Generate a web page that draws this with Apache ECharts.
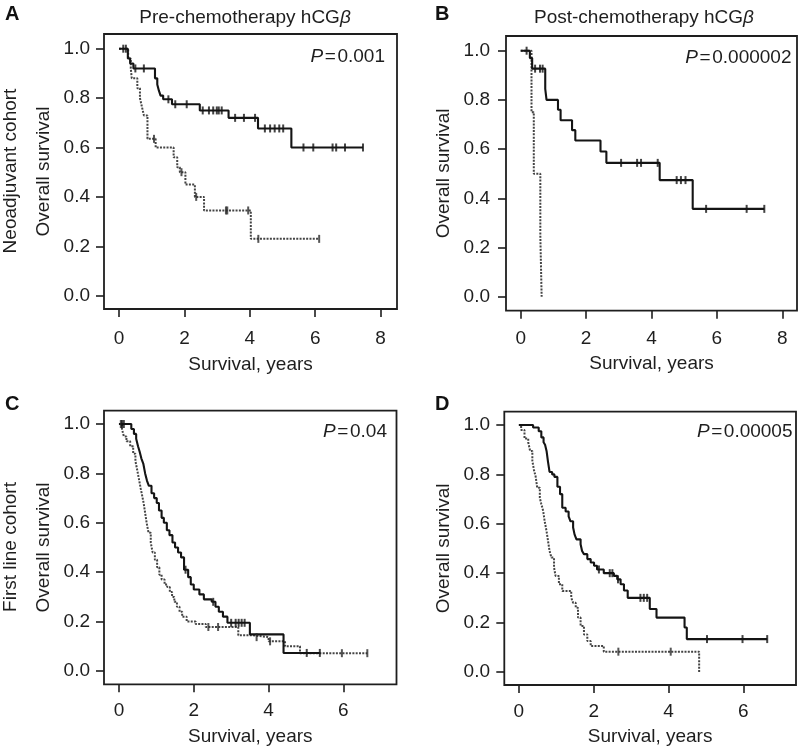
<!DOCTYPE html>
<html><head><meta charset="utf-8">
<script src="https://cdn.jsdelivr.net/npm/echarts@6/dist/echarts.min.js"></script>
<style>html,body{margin:0;padding:0;background:#fff}#chart{width:798px;height:749px}</style>
</head><body><div id="chart"></div>
<script>
// ---------- tick labels ----------
const xTicksAB = [0, 2, 4, 6, 8];
const xTicksCD = [0, 2, 4, 6];
const yTicks = [0, 0.2, 0.4, 0.6, 0.8, 1.0];

// ---------- Panel A: Neoadjuvant cohort, pre-chemotherapy hCGβ ----------
const aSolidTime = [0, 0.27, 0.34, 0.44, 1.10, 1.17, 1.22, 1.27, 1.35, 1.62, 2.47, 3.35, 4.25, 5.27, 7.46];
const aSolidSurv = [1, 0.96, 0.94, 0.92, 0.88, 0.855, 0.83, 0.81, 0.795, 0.775, 0.75, 0.72, 0.677, 0.60, 0.60];
const aSolidCens = [0.13, 0.21, 0.50, 0.76, 1.51, 1.72, 2.07, 2.56, 2.75, 2.88, 2.99, 3.05, 3.14, 3.55, 3.82, 4.16, 4.46, 4.62, 4.76, 4.90, 5.02, 5.64, 5.94, 6.53, 6.64, 6.91, 7.46];
const aDotTime = [0, 0.28, 0.36, 0.39, 0.56, 0.64, 0.70, 0.76, 0.87, 1.12, 1.67, 1.78, 1.86, 2.03, 2.32, 2.60, 4.03, 6.12];
const aDotSurv = [1, 0.96, 0.92, 0.88, 0.84, 0.80, 0.765, 0.73, 0.635, 0.60, 0.56, 0.52, 0.50, 0.45, 0.40, 0.345, 0.23, 0.23];
const aDotCens = [1.07, 1.91, 2.36, 3.27, 3.31, 3.95, 4.26, 6.12];

// ---------- Panel B: Neoadjuvant cohort, post-chemotherapy hCGβ ----------
const bSolidTime = [0, 0.28, 0.35, 0.75, 0.79, 1.14, 1.22, 1.57, 1.67, 2.44, 2.62, 4.25, 5.26, 7.45];
const bSolidSurv = [1, 0.97, 0.927, 0.845, 0.80, 0.76, 0.717, 0.677, 0.635, 0.59, 0.544, 0.474, 0.357, 0.357];
const bSolidCens = [0.18, 0.44, 0.59, 0.67, 3.07, 3.56, 3.68, 4.19, 4.77, 4.90, 5.04, 5.67, 6.91, 7.45];
const bDotTime = [0, 0.33, 0.40, 0.60, 0.64];
const bDotSurv = [1, 0.75, 0.50, 0.25, 0];
const bDotCens = [];

// ---------- Panel C: First line cohort, pre-chemotherapy hCGβ ----------
const cSolidTime = [0, 0.33, 0.40, 0.46, 0.51, 0.55, 0.60, 0.65, 0.70, 0.75, 0.80, 0.87, 0.94, 1.01, 1.07, 1.14, 1.20, 1.28, 1.35, 1.43, 1.50, 1.58, 1.66, 1.74, 1.85, 1.92, 2.00, 2.15, 2.27, 2.48, 2.58, 2.67, 2.78, 2.90, 3.50, 4.40, 5.37];
const cSolidSurv = [1, 0.98, 0.96, 0.94, 0.91, 0.89, 0.86, 0.84, 0.80, 0.77, 0.75, 0.72, 0.70, 0.68, 0.65, 0.62, 0.60, 0.57, 0.55, 0.52, 0.50, 0.48, 0.46, 0.41, 0.38, 0.35, 0.33, 0.31, 0.29, 0.28, 0.26, 0.24, 0.22, 0.195, 0.148, 0.073, 0.073];
const cSolidCens = [0.08, 0.13, 1.78, 2.52, 3.00, 3.12, 3.20, 3.28, 3.36, 5.02, 5.37];
const cDotTime = [0, 0.08, 0.13, 0.20, 0.30, 0.38, 0.44, 0.48, 0.53, 0.58, 0.62, 0.66, 0.70, 0.74, 0.79, 0.85, 0.90, 0.96, 1.02, 1.08, 1.14, 1.22, 1.29, 1.36, 1.42, 1.48, 1.55, 1.62, 1.69, 1.81, 2.05, 2.32, 3.19, 3.55, 4.00, 4.44, 4.84, 6.64];
const cDotSurv = [1, 0.98, 0.95, 0.93, 0.91, 0.88, 0.85, 0.82, 0.78, 0.74, 0.71, 0.68, 0.64, 0.60, 0.56, 0.52, 0.48, 0.45, 0.42, 0.39, 0.37, 0.35, 0.34, 0.32, 0.30, 0.28, 0.26, 0.24, 0.22, 0.20, 0.19, 0.178, 0.145, 0.137, 0.12, 0.10, 0.072, 0.072];
const cDotCens = [0.05, 2.39, 2.65, 3.68, 4.04, 5.96, 6.64];

// ---------- Panel D: First line cohort, post-chemotherapy hCGβ ----------
const dSolidTime = [0, 0.38, 0.53, 0.60, 0.66, 0.70, 0.74, 0.78, 0.82, 0.89, 0.95, 1.03, 1.10, 1.16, 1.25, 1.33, 1.38, 1.45, 1.49, 1.54, 1.65, 1.69, 1.74, 1.83, 1.92, 2.01, 2.09, 2.27, 2.54, 2.63, 2.72, 2.81, 2.91, 3.50, 3.68, 4.43, 4.49, 6.64];
const dSolidSurv = [1, 0.99, 0.975, 0.95, 0.93, 0.92, 0.895, 0.85, 0.81, 0.80, 0.79, 0.75, 0.72, 0.665, 0.65, 0.63, 0.61, 0.585, 0.556, 0.537, 0.517, 0.49, 0.477, 0.457, 0.443, 0.43, 0.415, 0.40, 0.389, 0.375, 0.355, 0.33, 0.30, 0.255, 0.22, 0.18, 0.133, 0.133];
const dSolidCens = [2.14, 2.43, 2.50, 2.65, 3.25, 3.34, 3.43, 5.03, 5.98, 6.64];
const dDotTime = [0, 0.06, 0.15, 0.25, 0.30, 0.36, 0.40, 0.45, 0.49, 0.56, 0.60, 0.65, 0.69, 0.74, 0.78, 0.82, 0.87, 0.94, 0.98, 1.07, 1.16, 1.40, 1.45, 1.52, 1.58, 1.65, 1.74, 1.83, 1.92, 2.27, 4.82];
const dDotSurv = [1, 0.98, 0.945, 0.93, 0.895, 0.855, 0.82, 0.79, 0.746, 0.705, 0.68, 0.652, 0.61, 0.57, 0.53, 0.49, 0.463, 0.423, 0.389, 0.355, 0.328, 0.30, 0.28, 0.26, 0.22, 0.186, 0.152, 0.125, 0.105, 0.082, 0];
const dDotCens = [2.66, 4.06];

// ---------- texts ----------
const panelLetters = ['A', 'B', 'C', 'D'];
const columnTitles = ['Pre-chemotherapy hCG', 'Post-chemotherapy hCG'];
const rowTitles = ['Neoadjuvant cohort', 'First line cohort'];
const pValues = ['0.001', '0.000002', '0.04', '0.00005'];

const FONT = '"Liberation Sans", Arial, Helvetica, sans-serif';
const TXT = '#1e1e1e';

function stepAt(times, surv, t) {
  let s = surv[0];
  for (let i = 0; i < times.length; i++) { if (times[i] <= t + 1e-9) s = surv[i]; else break; }
  return s;
}

const panels = [
  { grid: { left: 104, top: 34, width: 293, height: 275 }, xr: [-0.459, 8.50], yr: [-0.054, 1.0595], xt: xTicksAB, xm: 20.5, ng: 46, yg: 51, ym: 14,
    solid: [aSolidTime, aSolidSurv, aSolidCens], dot: [aDotTime, aDotSurv, aDotCens],
    letter: [5, 14.5], title: [245, 17.5], p: [385, 56.3] },
  { grid: { left: 506, top: 36, width: 291, height: 274.7 }, xr: [-0.45, 8.45], yr: [-0.057, 1.0598], xt: xTicksAB, xm: 19, ng: 43.5, yg: 53, ym: 16,
    solid: [bSolidTime, bSolidSurv, bSolidCens], dot: [bDotTime, bDotSurv, bDotCens],
    letter: [435, 14.5], title: [644, 17.5], p: [791.5, 57.5] },
  { grid: { left: 104, top: 410.7, width: 292.5, height: 273.6 }, xr: [-0.40, 7.42], yr: [-0.054, 1.054], xt: xTicksCD, xm: 17, ng: 43, yg: 51, ym: 14,
    solid: [cSolidTime, cSolidSurv, cSolidCens], dot: [cDotTime, cDotSurv, cDotCens],
    letter: [5, 404], title: null, p: [387, 431.7] },
  { grid: { left: 504.3, top: 411.7, width: 291.7, height: 273.3 }, xr: [-0.39, 7.41], yr: [-0.053, 1.054], xt: xTicksCD, xm: 17, ng: 42.5, yg: 51.4, ym: 14.3,
    solid: [dSolidTime, dSolidSurv, dSolidCens], dot: [dDotTime, dDotSurv, dDotCens],
    letter: [435, 404.5], title: null, p: [792.5, 431.7] }
];

const grid = [], xAxis = [], yAxis = [], series = [], graphic = [];
panels.forEach((p, i) => {
  grid.push(Object.assign({ show: true, borderColor: '#1e1e1e', borderWidth: 1.8, backgroundColor: 'transparent',
    containLabel: false, outerBoundsMode: 'none' }, p.grid));
  xAxis.push({
    type: 'value', gridIndex: i, min: p.xr[0], max: p.xr[1],
    axisLine: { show: false, onZero: false },
    axisTick: { show: true, inside: false, length: 8, customValues: p.xt, lineStyle: { color: '#1e1e1e', width: 1.6 } },
    axisLabel: { customValues: p.xt, margin: p.xm, fontSize: 19, color: TXT, fontFamily: FONT, formatter: v => String(Math.round(v)) },
    splitLine: { show: false },
    name: 'Survival, years', nameLocation: 'middle', nameGap: p.ng,
    nameTextStyle: { fontSize: 19, color: TXT, fontFamily: FONT }
  });
  yAxis.push({
    type: 'value', gridIndex: i, min: p.yr[0], max: p.yr[1],
    axisLine: { show: false, onZero: false },
    axisTick: { show: true, inside: false, length: 8, customValues: yTicks, lineStyle: { color: '#1e1e1e', width: 1.6 } },
    axisLabel: { customValues: yTicks, margin: p.ym, fontSize: 19, color: TXT, fontFamily: FONT, formatter: v => Number(v).toFixed(1) },
    splitLine: { show: false },
    name: 'Overall survival', nameLocation: 'middle', nameGap: p.yg,
    nameTextStyle: { fontSize: 19, color: TXT, fontFamily: FONT }
  });
  const [dt, ds, dc] = p.dot;
  const [st, ss, sc] = p.solid;
  series.push({
    type: 'line', xAxisIndex: i, yAxisIndex: i, step: 'end', symbol: 'none', z: 2,
    data: dt.map((t, k) => [t, ds[k]]),
    lineStyle: { color: '#444', width: 2, type: [2, 1.3] }, silent: true
  });
  series.push({
    type: 'line', xAxisIndex: i, yAxisIndex: i, step: 'end', symbol: 'none', z: 3,
    data: st.map((t, k) => [t, ss[k]]),
    lineStyle: { color: '#141414', width: 2.1 }, silent: true
  });
  series.push({
    type: 'scatter', xAxisIndex: i, yAxisIndex: i, symbol: 'rect', symbolSize: [2, 8], z: 4,
    data: dc.map(t => [t, stepAt(dt, ds, t)]), itemStyle: { color: '#2a2a2a' }, silent: true
  });
  series.push({
    type: 'scatter', xAxisIndex: i, yAxisIndex: i, symbol: 'rect', symbolSize: [2, 8], z: 4,
    data: sc.map(t => [t, stepAt(st, ss, t)]), itemStyle: { color: '#141414' }, silent: true
  });

  graphic.push({ type: 'text', x: p.letter[0], y: p.letter[1],
    style: { text: panelLetters[i], fontSize: 20, fontWeight: 'bold', fontFamily: FONT, fill: '#111', align: 'left', verticalAlign: 'middle' } });
  graphic.push({ type: 'text', x: p.p[0], y: p.p[1],
    style: { text: '{i|P}{n|\u200A=\u200A' + pValues[i] + '}', align: 'right', verticalAlign: 'middle', fill: TXT,
      rich: { i: { fontSize: 19, fontStyle: 'italic', fontFamily: FONT, fill: TXT }, n: { fontSize: 19, fontFamily: FONT, fill: TXT } } } });
  if (p.title) {
    graphic.push({ type: 'text', x: p.title[0], y: p.title[1],
      style: { text: '{n|' + columnTitles[i] + '}{i|β}', align: 'center', verticalAlign: 'middle', fill: TXT,
        rich: { i: { fontSize: 19, fontStyle: 'italic', fontFamily: FONT, fill: TXT }, n: { fontSize: 19, fontFamily: FONT, fill: TXT } } } });
  }
});
graphic.push({ type: 'text', x: 10.5, y: 171, rotation: Math.PI / 2,
  style: { text: rowTitles[0], fontSize: 19, fontFamily: FONT, fill: TXT, align: 'center', verticalAlign: 'middle' } });
graphic.push({ type: 'text', x: 10.5, y: 547, rotation: Math.PI / 2,
  style: { text: rowTitles[1], fontSize: 19, fontFamily: FONT, fill: TXT, align: 'center', verticalAlign: 'middle' } });

const chart = echarts.init(document.getElementById('chart'), null, { renderer: 'canvas' });
chart.setOption({ animation: false, backgroundColor: '#fff', grid, xAxis, yAxis, series, graphic });
</script></body></html>
